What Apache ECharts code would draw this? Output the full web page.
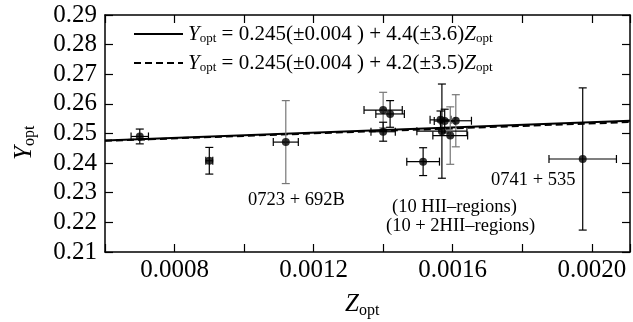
<!DOCTYPE html>
<html>
<head>
<meta charset="utf-8">
<script src="https://cdn.jsdelivr.net/npm/echarts@6/dist/echarts.min.js"></script>
<style>
  html, body { margin: 0; padding: 0; background: #fff; }
  #chart { width: 633px; height: 322px; }
</style>
</head>
<body>
<div id="chart"></div>
<script>
// Oxygen abundance Z and helium mass fraction Y for each object, with 1-sigma errors
const zOpt = [0.00070, 0.00090, 0.00112, 0.00140, 0.00142, 0.00140, 0.001515, 0.001565, 0.001577, 0.001609, 0.001569, 0.001593, 0.001974];
const yOpt = [0.2490, 0.2408, 0.2471, 0.2579, 0.2566, 0.2506, 0.2405, 0.2546, 0.2542, 0.2543, 0.2508, 0.2493, 0.2414];
const zErr = [0.000025, 0.000010, 0.000036, 0.000055, 0.000041, 0.000035, 0.000047, 0.000030, 0.000030, 0.000045, 0.000072, 0.000050, 0.000097];
const yErr = [0.0025, 0.0045, 0.0140, 0.0060, 0.0045, 0.0032, 0.0047, 0.0030, 0.0040, 0.0088, 0.0159, 0.0097, 0.0240];
// grey vertical error bars (1) vs black (0)
const yBarGrey = [0, 0, 1, 1, 0, 0, 0, 0, 0, 1, 0, 1, 0];

// Linear fits Y = a + b*Z
const fitIntercept = [0.245, 0.245];
const fitSlope = [4.4, 4.2];
const fitNames = [
  '{i|Y}{s|opt}{t| = 0.245(±0.004 ) + 4.4(±3.6)}{i|Z}{s|opt}',
  '{i|Y}{s|opt}{t| = 0.245(±0.004 ) + 4.2(±3.5)}{i|Z}{s|opt}'
];

// Axis ranges and ticks
const xMin = 0.0006, xMax = 0.00211, xStep = 0.0002;
const yMin = 0.21, yMax = 0.29, yStep = 0.01;

const SERIF = "'Liberation Serif', 'DejaVu Serif', serif";

const points = zOpt.map((z, i) => [z, yOpt[i], zErr[i], yErr[i], yBarGrey[i]]);

function fitLine(k) {
  return [
    [xMin, fitIntercept[k] + fitSlope[k] * xMin],
    [xMax, fitIntercept[k] + fitSlope[k] * xMax]
  ];
}

function renderErrorBar(params, api) {
  const x = api.value(0), y = api.value(1), ex = api.value(2), ey = api.value(3);
  const grey = api.value(4) === 1;
  const l = api.coord([x - ex, y]);
  const r = api.coord([x + ex, y]);
  const t = api.coord([x, y + ey]);
  const b = api.coord([x, y - ey]);
  const cap = 4;
  const blk = { stroke: '#000', lineWidth: 1.2 };
  const vs = { stroke: grey ? '#777' : '#000', lineWidth: 1.2 };
  return {
    type: 'group',
    children: [
      { type: 'line', shape: { x1: l[0], y1: l[1], x2: r[0], y2: r[1] }, style: blk },
      { type: 'line', shape: { x1: l[0], y1: l[1] - cap, x2: l[0], y2: l[1] + cap }, style: blk },
      { type: 'line', shape: { x1: r[0], y1: r[1] - cap, x2: r[0], y2: r[1] + cap }, style: blk },
      { type: 'line', shape: { x1: t[0], y1: t[1], x2: b[0], y2: b[1] }, style: vs },
      { type: 'line', shape: { x1: t[0] - cap, y1: t[1], x2: t[0] + cap, y2: t[1] }, style: vs },
      { type: 'line', shape: { x1: b[0] - cap, y1: b[1], x2: b[0] + cap, y2: b[1] }, style: vs }
    ]
  };
}

const axisLineStyle = { color: '#000', width: 1.5 };
const tickStyle = { inside: true, length: 8, lineStyle: { color: '#000', width: 1.2 } };

function xLabel(v) {
  const n = Math.round(v * 1e5) / 10;
  return (Number.isInteger(n) && n % 4 === 0) ? v.toFixed(4) : '';
}

// Legend text: italic symbols with lowered "opt" subscripts
const legendRich = {
  i: { fontFamily: SERIF, fontStyle: 'italic', fontSize: 21, lineHeight: 22, color: '#000' },
  s: { fontFamily: SERIF, fontSize: 13, lineHeight: 13, color: '#000', padding: [9, 0, 0, 0] },
  t: { fontFamily: SERIF, fontSize: 21, lineHeight: 22, color: '#000' }
};

const chart = echarts.init(document.getElementById('chart'), null, { renderer: 'canvas' });
chart.setOption({
  animation: false,
  backgroundColor: '#fff',
  grid: { left: 105, right: 2, top: 15, bottom: 70 },
  legend: {
    left: 128, top: 18, orient: 'vertical',
    itemWidth: 49, itemHeight: 12, itemGap: 7,
    itemStyle: { opacity: 0 },
    data: fitNames.map(n => ({ name: n })),
    formatter: n => n,
    textStyle: { rich: legendRich, fontFamily: SERIF, fontSize: 21, color: '#000' }
  },
  xAxis: [
    {
      type: 'value', min: xMin, max: xMax, interval: xStep, position: 'bottom',
      axisLine: { lineStyle: axisLineStyle }, axisTick: tickStyle, splitLine: { show: false },
      axisLabel: { formatter: xLabel, fontFamily: SERIF, fontSize: 25, color: '#000', margin: 6 }
    },
    {
      type: 'value', min: xMin, max: xMax, interval: xStep, position: 'top',
      axisLine: { lineStyle: axisLineStyle }, axisTick: tickStyle, splitLine: { show: false },
      axisLabel: { show: false }
    }
  ],
  yAxis: [
    {
      type: 'value', min: yMin, max: yMax, interval: yStep, position: 'left',
      axisLine: { show: true, lineStyle: axisLineStyle }, axisTick: tickStyle, splitLine: { show: false },
      axisLabel: { formatter: v => v.toFixed(2), fontFamily: SERIF, fontSize: 25, color: '#000', margin: 8 }
    },
    {
      type: 'value', min: yMin, max: yMax, interval: yStep, position: 'right',
      axisLine: { show: true, lineStyle: axisLineStyle }, axisTick: tickStyle, splitLine: { show: false },
      axisLabel: { show: false }
    }
  ],
  graphic: [
    {
      type: 'text', left: 345, top: 292,
      style: { rich: {
        i: { fontFamily: SERIF, fontStyle: 'italic', fontSize: 25, fill: '#000' },
        s: { fontFamily: SERIF, fontSize: 16, fill: '#000', padding: [12, 0, 0, 0] }
      }, text: '{i|Z}{s|opt}' }
    },
    {
      type: 'text', x: 10, y: 160, rotation: Math.PI / 2,
      style: { rich: {
        i: { fontFamily: SERIF, fontStyle: 'italic', fontSize: 25, fill: '#000' },
        s: { fontFamily: SERIF, fontSize: 16, fill: '#000', padding: [12, 0, 0, 0] }
      }, text: '{i|Y}{s|opt}' }
    },
    { type: 'text', left: 248, top: 191, style: { text: '0723 + 692B', font: "18.5px 'Liberation Serif'", fill: '#000' } },
    { type: 'text', left: 491, top: 171, style: { text: '0741 + 535', font: "18.5px 'Liberation Serif'", fill: '#000' } },
    { type: 'text', left: 392, top: 198, style: { text: '(10 HII–regions)', font: "18.5px 'Liberation Serif'", fill: '#000' } },
    { type: 'text', left: 386, top: 217, style: { text: '(10 + 2HII–regions)', font: "18.5px 'Liberation Serif'", fill: '#000' } }
  ],
  series: [
    {
      name: fitNames[0], type: 'line', data: fitLine(0), symbol: 'none',
      lineStyle: { color: '#000', width: 2, type: 'solid' }, itemStyle: { color: '#000' }, z: 3
    },
    {
      name: fitNames[1], type: 'line', data: fitLine(1), symbol: 'none',
      lineStyle: { color: '#000', width: 2, type: [7, 4] }, itemStyle: { color: '#000' }, z: 3
    },
    {
      type: 'custom', renderItem: renderErrorBar, data: points, z: 4,
      encode: { x: 0, y: 1 }
    },
    {
      type: 'scatter', data: points.map(p => [p[0], p[1]]), symbol: 'circle', symbolSize: 8,
      itemStyle: { color: '#000' }, z: 5
    }
  ]
});
</script>
</body>
</html>
